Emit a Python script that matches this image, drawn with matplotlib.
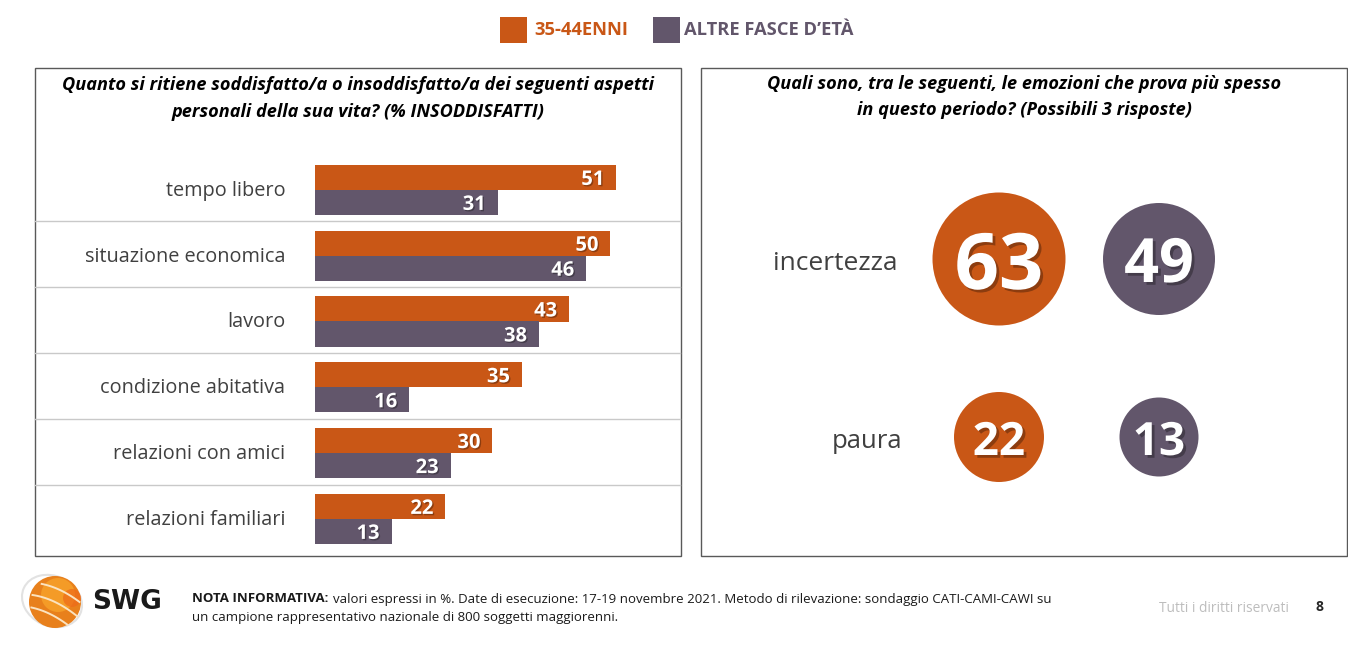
import numpy as np
import matplotlib
matplotlib.use('Agg')
import matplotlib.pyplot as plt
import matplotlib.patheffects as pe
from matplotlib.patches import Rectangle, Circle, Ellipse
from matplotlib.transforms import ScaledTranslation

W, H = 1348, 658

categories = ['tempo libero', 'situazione economica', 'lavoro',
              'condizione abitativa', 'relazioni con amici', 'relazioni familiari']
values_3544 = [51, 50, 43, 35, 30, 22]
values_altre = [31, 46, 38, 16, 23, 13]

emotions = ['incertezza', 'paura']
emo_3544 = [63, 22]
emo_altre = [49, 13]
# bubbles are not to scale in the original, so diameters are set by hand (px)
diam_3544 = [133, 90]
diam_altre = [112, 79]

legend_labels = ['35-44ENNI', 'ALTRE FASCE D’ETÀ']
title_left = ['Quanto si ritiene soddisfatto/a o insoddisfatto/a dei seguenti aspetti',
              'personali della sua vita? (% INSODDISFATTI)']
title_right = ['Quali sono, tra le seguenti, le emozioni che prova più spesso',
               'in questo periodo? (Possibili 3 risposte)']

ORANGE = '#C95716'
GREY = '#62566B'
LINE = '#C9C9C9'
TEXT = '#404040'

plt.rcParams['font.family'] = ['Open Sans', 'DejaVu Sans']


def axes_px(fig, x0, y0, x1, y1, **kw):
    return fig.add_axes([x0 / W, 1 - y1 / H, (x1 - x0) / W, (y1 - y0) / H], **kw)


def shadow(offset=(1, -1), alpha=0.3):
    return [pe.withSimplePatchShadow(offset=offset, shadow_rgbFace='#000000', alpha=alpha)]


fig = plt.figure(figsize=(W / 100, H / 100), dpi=100, facecolor='white')

# overlay in pixel coords for frames, legend, titles, footer
bg = axes_px(fig, 0, 0, W, H)
bg.set_xlim(0, W)
bg.set_ylim(H, 0)
bg.axis('off')

for x0, x1 in [(34.5, 680.5), (700.5, 1346.5)]:
    bg.add_patch(Rectangle((x0, 67.5), x1 - x0, 488, fc='none', ec='#595959', lw=1))

# legend
bg.add_patch(Rectangle((500, 17), 27, 26, fc=ORANGE, ec='none'))
bg.text(534, 30, legend_labels[0], color=ORANGE, fontsize=13.2, fontweight='bold', va='center')
bg.add_patch(Rectangle((653, 17), 27, 26, fc=GREY, ec='none'))
bg.text(684, 30, legend_labels[1], color=GREY, fontsize=13.2, fontweight='bold', va='center')

# titles
for i, line in enumerate(title_left):
    bg.text(358, 85 + i * 27, line, fontsize=13.1, fontweight='bold', fontstyle='italic',
            color='black', ha='center', va='center')
for i, line in enumerate(title_right):
    bg.text(1024, 84 + i * 26, line, fontsize=13.1, fontweight='bold', fontstyle='italic',
            color='black', ha='center', va='center')

# row separators
for i in range(1, 6):
    y = 155 + 66 * i
    bg.plot([35, 680], [y, y], color=LINE, lw=1)

# bar chart
ax = axes_px(fig, 315, 157, 315 + 5.9 * 60, 551.8)
ax.patch.set_alpha(0)
ypos = np.arange(len(categories))
ax.barh(ypos - 0.19, values_3544, height=0.385, color=ORANGE)
ax.barh(ypos + 0.19, values_altre, height=0.385, color=GREY)
ax.set_xlim(0, 60)
ax.set_ylim(len(categories) - 0.5, -0.5)
ax.set_xticks([])
ax.set_yticks(ypos)
ax.set_yticklabels(categories, fontsize=14.3, color=TEXT)
ax.tick_params(axis='y', length=0, pad=21.5)
for lab in ax.get_yticklabels():
    lab.set_transform(lab.get_transform() + ScaledTranslation(0, 1.5 / 100, fig.dpi_scale_trans))
for s in ax.spines.values():
    s.set_visible(False)
for i in ypos:
    ax.text(values_3544[i] - 3.9, i - 0.19, str(values_3544[i]), color='white', fontsize=14.5,
            fontweight='bold', ha='center', va='center_baseline', path_effects=shadow())
    ax.text(values_altre[i] - 4, i + 0.19, str(values_altre[i]), color='white', fontsize=14.5,
            fontweight='bold', ha='center', va='center_baseline', path_effects=shadow())

# bubbles
ax2 = axes_px(fig, 919, 170, 1239, 526)
ax2.patch.set_alpha(0)
ax2.axis('off')
ax2.set_xlim(-0.5, 1.5)
ax2.set_ylim(1.5, -0.5)
ypos2 = np.arange(len(emotions))
ax2.scatter([0] * 2, ypos2, s=(np.array(diam_3544) * 0.72) ** 2, color=ORANGE, linewidths=0, clip_on=False)
ax2.scatter([1] * 2, ypos2, s=(np.array(diam_altre) * 0.72) ** 2, color=GREY, linewidths=0, clip_on=False)
big_font = [56, 33]
alt_font = [44, 33]
for i in ypos2:
    ax2.text(0, i, str(emo_3544[i]), color='white', fontsize=big_font[i], fontweight='bold',
             ha='center', va='center_baseline', path_effects=shadow((2, -2)))
    ax2.text(1, i, str(emo_altre[i]), color='white', fontsize=alt_font[i], fontweight='bold',
             ha='center', va='center_baseline', path_effects=shadow((2, -2)))
bg.text(835, 263, emotions[0], fontsize=19, color=TEXT, ha='center', va='center')
bg.text(867, 441, emotions[1], fontsize=18.5, color=TEXT, ha='center', va='center')

# footer
bg.text(192, 599, 'NOTA INFORMATIVA:', fontsize=9.5, fontweight='bold', color='#1a1a1a', va='center')
bg.text(333, 599, 'valori espressi in %. Date di esecuzione: 17-19 novembre 2021. Metodo di rilevazione: sondaggio CATI-CAMI-CAWI su',
        fontsize=9.55, color='#1a1a1a', va='center')
bg.text(192, 618, 'un campione rappresentativo nazionale di 800 soggetti maggiorenni.',
        fontsize=9.5, color='#1a1a1a', va='center')
bg.text(1289, 608, 'Tutti i diritti riservati', fontsize=9.9, color='#BDBDBD', ha='right', va='center')
bg.text(1320, 607, '8', fontsize=10, fontweight='bold', color='#262626', ha='center', va='center')

# logo
bg.add_patch(Ellipse((52, 601), 62, 50, angle=25, fc='none', ec='#E2E2E2', lw=1.5))
bg.add_patch(Circle((55, 602), 26, fc='#E8801C', ec='none'))
bg.add_patch(Circle((58, 595), 17, fc='#F49B27', ec='none'))
bg.add_patch(Circle((72, 598), 9, fc='#EE6A1A', ec='none', alpha=0.7))
for n, half in [(-13, 21), (0, 25), (13, 20)]:
    t = np.linspace(-half, half, 20)
    bg.plot(55 + t * 0.9 - n * 0.43, 602 + t * 0.43 + n * 0.9 + 0.006 * t ** 2,
            color='#FBE3C0', lw=1.4)
bg.text(92, 602, 'SWG', fontsize=19, fontweight='bold', color='#1a1a1a', va='center',
        family='DejaVu Sans')

fig.savefig('out.png', dpi=100)
